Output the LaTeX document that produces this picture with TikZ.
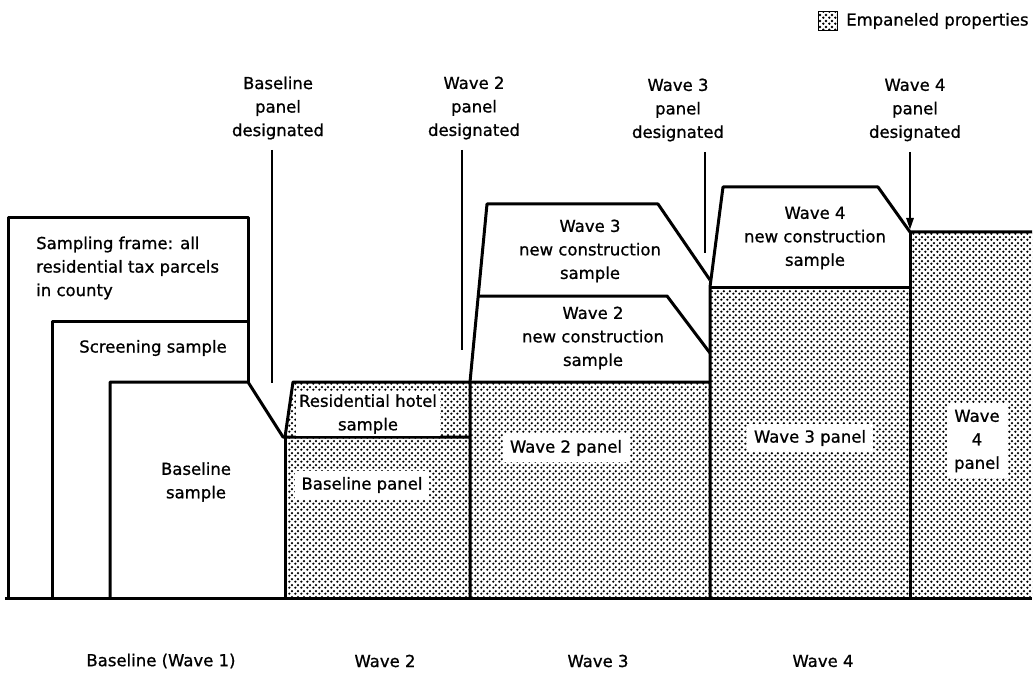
\documentclass[tikz,border=0pt]{standalone}
\usepackage{fontspec}
\setmainfont{DejaVu Sans}[UprightFeatures={FakeBold=0.9}]
\usetikzlibrary{patterns.meta,arrows.meta}
\tikzdeclarepattern{
  name=stip,
  type=uncolored,
  bottom left={(0pt,0pt)},
  top right={(6pt,6pt)},
  tile size={(6pt,6pt)},
  code={\fill (1.5pt,1.5pt) circle (1.45pt); \fill (4.5pt,4.5pt) circle (1.45pt);}
}
\begin{document}
\begin{tikzpicture}[x=1pt,y=-1pt,
  outline/.style={line width=3pt, line join=round},
  stipfill/.style={pattern={stip}, pattern color=black},
  txt/.style={font=\fontsize{16.5}{23.5}\selectfont, align=center, inner sep=0pt},
  lbox/.style={txt, fill=white, inner xsep=7pt, inner ysep=6pt},
  marker/.style={line width=2.6pt}]
\useasboundingbox (0,0) rectangle (1036,679);
% stippled regions
\fill[white] (285,437) -- (293,382) -- (470,382) -- (470,598) -- (285,598) -- cycle;
\fill[stipfill] (285,437) -- (293,382) -- (470,382) -- (470,598) -- (285,598) -- cycle;
\fill[stipfill] (470,382) rectangle (710,598);
\fill[stipfill] (710,287) rectangle (910,598);
\fill[stipfill] (910,232) rectangle (1032,598);
% outlines
\draw[outline] (8,598) -- (8,218) -- (248,218) -- (248,382);
\draw[outline] (52,598) -- (52,321) -- (248,321);
\draw[outline] (110,598) -- (110,382) -- (248,382) -- (283,437) -- (470,437);
\draw[outline] (285,437) -- (293,382) -- (710,382);
\draw[outline] (285,437) -- (285,598);
\draw[outline] (470,598) -- (470,382) -- (487,204) -- (658,204) -- (710,280);
\draw[outline] (478,296) -- (667,296) -- (710,353);
\draw[outline] (710,598) -- (710,287) -- (723,187) -- (878,187) -- (910,232) -- (1032,232);
\draw[outline] (710,287) -- (910,287);
\draw[outline] (910,232) -- (910,598);
\draw[outline] (5,598) -- (1032,598);
% labels inside
\node[txt, align=left, anchor=west] (frame) at (36,268) {Sampling frame: all\\residential tax parcels\\in county};
\node[txt] (screen) at (153,348) {Screening sample};
\node[txt] (bsample) at (196,482) {Baseline\\sample};
\node[txt, fill=white, inner xsep=3pt, inner ysep=2pt] (hotel) at (368,414) {Residential hotel\\sample};
\node[lbox] (bpanel) at (362,485) {Baseline panel};
\node[lbox] (w2panel) at (566,448) {Wave 2 panel};
\node[lbox] (w3panel) at (810,438) {Wave 3 panel};
\node[lbox] (w4panel) at (977,441) {Wave\\4\\panel};
\node[txt] (w2nc) at (593,338) {Wave 2\\new construction\\sample};
\node[txt] (w3nc) at (590,251) {Wave 3\\new construction\\sample};
\node[txt] (w4nc) at (815,238) {Wave 4\\new construction\\sample};
% top labels
\node[txt] (lb) at (278,108) {Baseline\\panel\\designated};
\node[txt] (l2) at (474,108) {Wave 2\\panel\\designated};
\node[txt] (l3) at (678,110) {Wave 3\\panel\\designated};
\node[txt] (l4) at (915,110) {Wave 4\\panel\\designated};
\coordinate (lbt) at (272,150); \coordinate (lbb) at (272,383);
\coordinate (l2t) at (462,150); \coordinate (l2b) at (462,350);
\coordinate (l3t) at (705,152); \coordinate (l3b) at (705,253);
\coordinate (l4t) at (910,152); \coordinate (l4b) at (910,230);
\draw[marker] (lbt) -- (lbb);
\draw[marker] (l2t) -- (l2b);
\draw[marker] (l3t) -- (l3b);
\draw[marker, -{Triangle[length=12pt,width=7pt]}] (l4t) -- (l4b);
% legend
\node[draw, line width=1.2pt, pattern={stip}, pattern color=black, minimum size=19pt, inner sep=0pt] (leg) at (828,21) {};
\node[txt, anchor=west] (legt) at (846,21) {Empaneled properties};
% bottom labels
\node[txt] (x1) at (161,661) {Baseline (Wave 1)};
\node[txt] (x2) at (385,661) {Wave 2};
\node[txt] (x3) at (598,661) {Wave 3};
\node[txt] (x4) at (823,661) {Wave 4};
\end{tikzpicture}
\end{document}
